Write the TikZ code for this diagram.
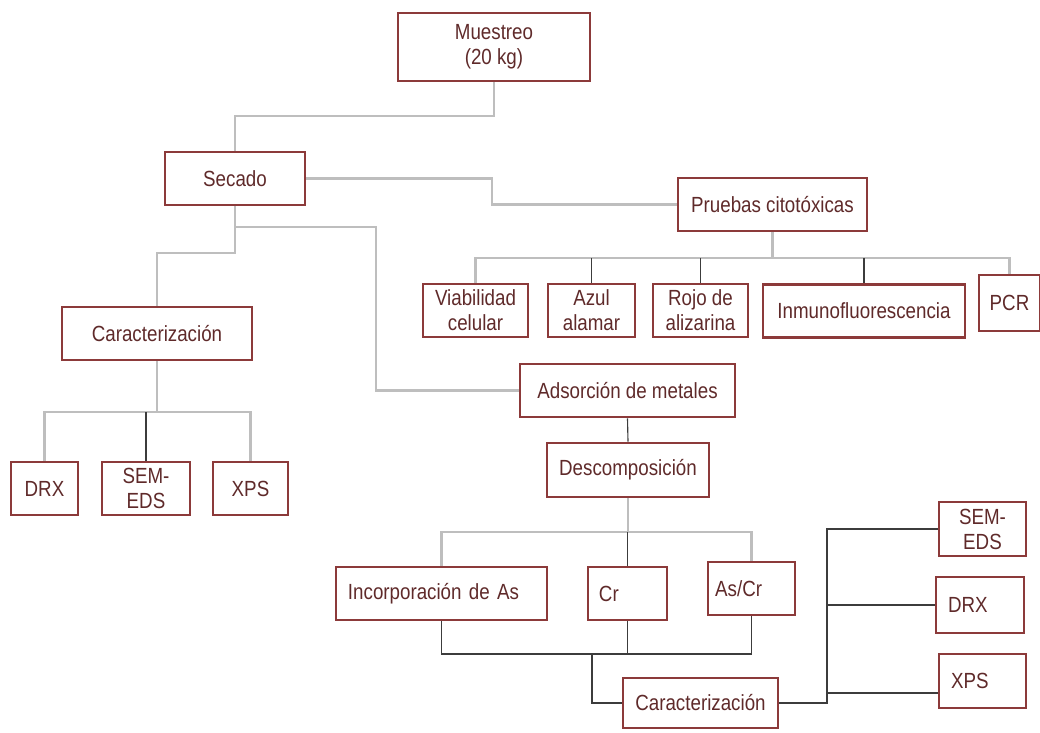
\documentclass[tikz,border=0pt]{standalone}
\usepackage{fontspec}
\setmainfont[FakeStretch=0.855]{Liberation Sans}

\definecolor{boxred}{RGB}{140,58,58}
\definecolor{textred}{RGB}{95,42,42}
\definecolor{linegray}{RGB}{190,190,190}
\definecolor{linedark}{RGB}{60,60,60}

\begin{document}
\begin{tikzpicture}
[
	box/.style={draw=boxred,line width=1.9pt,text=textred,inner sep=0pt,align=center,
		font=\fontsize{15.6pt}{17.8pt}\selectfont},
	lbox/.style={box,align=left,inner xsep=0.3cm},
	gline/.style={linegray,line width=1.5pt},
	dline/.style={linedark,line width=0.8pt},
	x=0.025cm,y=-0.025cm
]

	\useasboundingbox (0,0) rectangle (1040,732);

	% main steps
	\node[box,minimum width=4.8cm,minimum height=1.7cm] at (494,47) (muestreo) {Muestreo\\(20 kg)};
	\node[box,minimum width=3.5cm,minimum height=1.325cm] at (235,178.5) (secado) {Secado};
	\node[box,minimum width=4.725cm,minimum height=1.325cm] at (772.5,204.5) (pruebas) {Pruebas citotóxicas};
	\node[box,minimum width=4.75cm,minimum height=1.325cm] at (157,333.5) (carL) {Caracterización};
	\node[box,minimum width=5.375cm,minimum height=1.325cm] at (627.5,390.5) (adsorcion) {Adsorción de metales};
	\node[box,minimum width=4.05cm,minimum height=1.35cm] at (628,470) (descomp) {Descomposición};

	% cytotoxic tests
	\node[box,minimum width=2.625cm,minimum height=1.325cm] at (475.5,310.5) (viab) {Viabilidad\\celular};
	\node[box,minimum width=2.175cm,minimum height=1.325cm] at (591.5,310.5) (azul) {Azul\\alamar};
	\node[box,minimum width=2.375cm,minimum height=1.325cm] at (700.5,310.5) (rojo) {Rojo de\\alizarina};
	\node[box,minimum width=5.05cm,minimum height=1.325cm] at (864,311) (inmuno) {Inmunofluorescencia};
	\node[box,minimum width=1.525cm,minimum height=1.4cm] at (1009.5,303) (pcr) {PCR};

	% left characterization
	\node[box,minimum width=1.675cm,minimum height=1.325cm] at (44.5,488.5) (drxL) {DRX};
	\node[box,minimum width=2.2cm,minimum height=1.325cm] at (146,488.5) (semL) {SEM-\\EDS};
	\node[box,minimum width=1.875cm,minimum height=1.325cm] at (250.5,488.5) (xpsL) {XPS};

	% incorporation
	\node[lbox,text width=4.675cm,minimum height=1.325cm] at (441.5,593.5) (incorp) {Incorporación de As};
	\node[lbox,text width=1.425cm,inner xsep=0.275cm,minimum height=1.325cm] at (627.5,593.5) (cr) {Cr};
	\node[lbox,text width=1.815cm,inner xsep=0.18cm,minimum height=1.325cm] at (751.5,588.5) (ascr) {As/Cr};
	\node[box,minimum width=3.875cm,minimum height=1.25cm] at (700.5,703) (carB) {Caracterización};

	% right characterization
	\node[box,minimum width=2.175cm,minimum height=1.35cm] at (982.5,529) (semR) {SEM-\\EDS};
	\node[lbox,text width=1.6cm,minimum height=1.4cm] at (980,605) (drxR) {DRX};
	\node[lbox,text width=1.575cm,minimum height=1.35cm] at (982.5,681) (xpsR) {XPS};

	% junctions
	\coordinate (j0) at (494,116);
	\coordinate (j1) at (492,204.5);
	\coordinate (j2) at (235,253);
	\coordinate (j3) at (235,227);
	\coordinate (j4) at (376,227);
	\coordinate (j5) at (772.5,258);
	\coordinate (j6) at (157,412);
	\coordinate (j7) at (628,532);
	\coordinate (j8) at (592,654);
	\coordinate (j9) at (827,703);
	\coordinate (j10) at (827,693);

	% gray connectors
	\draw[gline] (muestreo.south) -- (j0) -| (secado.north);
	\draw[gline] (secado.east) -| (j1) -- (pruebas.west);
	\draw[gline] (secado.south) -- (j2) -| (carL.north);
	\draw[gline] (j3) -- (j4) |- (adsorcion.west);
	\draw[gline] (pruebas.south) -- (j5);
	\draw[gline] (viab.north) |- (j5) -| (pcr.north);
	\draw[gline] (carL.south) -- (j6);
	\draw[gline] (drxL.north) |- (j6) -| (xpsL.north);
	\draw[gline] (descomp.south) -- (j7);
	\draw[gline] (incorp.north) |- (j7) -| (ascr.north);

	% dark connectors
	\draw[dline] (azul.north) -- (azul.north |- j5);
	\draw[dline] (rojo.north) -- (rojo.north |- j5);
	\draw[dline] (inmuno.north) -- (inmuno.north |- j5);
	\draw[dline] (semL.north) -- (semL.north |- j6);
	\draw[dline] (adsorcion.south) -- (descomp.north);
	\draw[dline] (cr.north) -- (cr.north |- j7);
	\draw[dline] (incorp.south) |- (j8) -| (ascr.south);
	\draw[dline] (cr.south) -- (cr.south |- j8);
	\draw[dline] (j8) |- (carB.west);
	\draw[dline] (carB.east) -- (j9) |- (semR.west);
	\draw[dline] (j9 |- drxR.west) -- (drxR.west);
	\draw[dline] (j10) -- (j10 -| xpsR.west);

\end{tikzpicture}
\end{document}
